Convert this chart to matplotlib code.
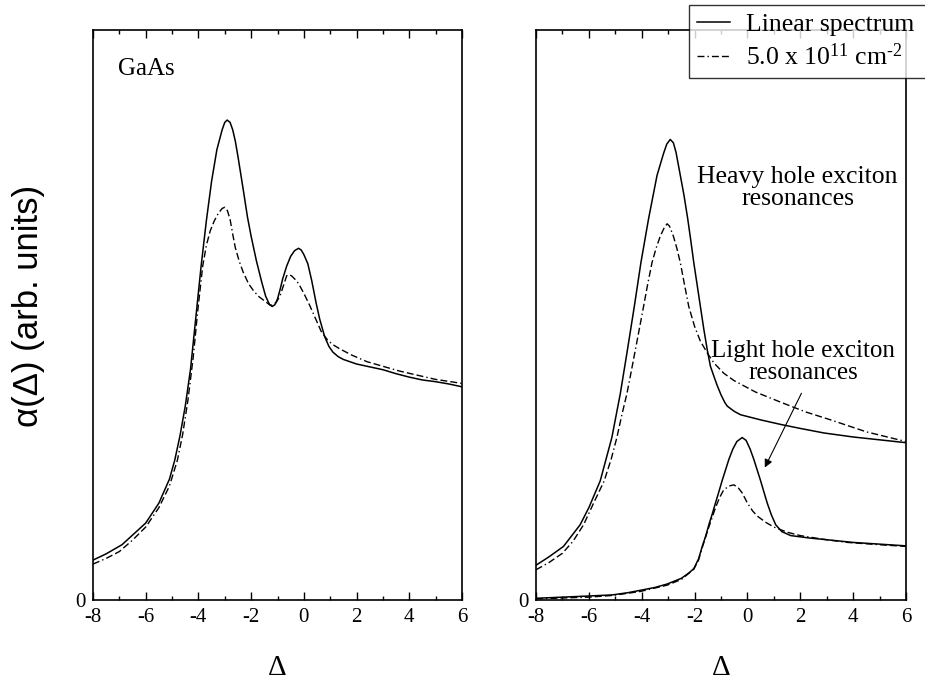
import numpy as np
import matplotlib.pyplot as plt

plt.rcParams['font.family'] = 'Liberation Serif'
plt.rcParams['mathtext.fontset'] = 'custom'
plt.rcParams['mathtext.rm'] = 'Liberation Serif'
plt.rcParams['mathtext.it'] = 'Liberation Serif:italic'
plt.rcParams['axes.unicode_minus'] = False

# GaAs total absorption
gaas_x = [-8, -7.5, -6.9, -6.0, -5.5, -5.1, -4.9, -4.7, -4.5, -4.3, -4.1, -3.9, -3.7, -3.5,
          -3.3, -3.1, -3.0, -2.91, -2.8, -2.7, -2.6, -2.5, -2.3, -2.14, -2.0, -1.8, -1.6,
          -1.45, -1.3, -1.2, -1.1, -1.0, -0.9, -0.8, -0.65, -0.5, -0.35, -0.2, -0.1, 0.0,
          0.15, 0.3, 0.47, 0.6, 0.79, 0.95, 1.1, 1.3, 1.5, 2, 2.5, 3, 3.5, 4, 4.5, 5, 5.5, 6]
gaas_lin = [0.70, 0.81, 0.97, 1.35, 1.70, 2.12, 2.45, 2.88, 3.40, 4.05, 4.95, 5.85, 6.65, 7.35,
            7.90, 8.25, 8.38, 8.42, 8.38, 8.25, 8.05, 7.78, 7.20, 6.72, 6.38, 5.95, 5.58,
            5.33, 5.18, 5.15, 5.18, 5.28, 5.45, 5.64, 5.86, 6.03, 6.13, 6.17, 6.14, 6.06,
            5.90, 5.60, 5.20, 4.93, 4.62, 4.45, 4.35, 4.27, 4.22, 4.14, 4.09, 4.04, 3.97, 3.91,
            3.86, 3.83, 3.79, 3.74]

gaas_nl_x = [-8, -7.5, -7, -6.5, -6, -5.5, -5.1, -4.8, -4.6, -4.4, -4.2, -4.02, -3.84, -3.7,
             -3.55, -3.4, -3.25, -3.1, -3.0, -2.9, -2.8, -2.7, -2.6, -2.45, -2.3, -2.1, -1.9,
             -1.7, -1.5, -1.3, -1.2, -1.05, -0.9, -0.75, -0.65, -0.55, -0.45, -0.3, -0.2, 0.0,
             0.22, 0.45, 0.66, 0.9, 1.1, 1.35, 1.8, 2.4, 3, 3.6, 4.25, 5, 6]
gaas_nl = [0.63, 0.73, 0.85, 1.05, 1.28, 1.62, 2.00, 2.45, 2.90, 3.50, 4.25, 5.10, 5.85, 6.22,
           6.48, 6.65, 6.78, 6.87, 6.89, 6.83, 6.68, 6.42, 6.18, 5.94, 5.75, 5.55, 5.42,
           5.32, 5.25, 5.18, 5.17, 5.22, 5.34, 5.55, 5.69, 5.71, 5.68, 5.61, 5.55, 5.38,
           5.17, 4.93, 4.71, 4.56, 4.48, 4.41, 4.30, 4.18, 4.10, 4.02, 3.95, 3.87, 3.80]

# heavy hole exciton part
hh_x = [-8, -7.5, -6.96, -6.33, -6.0, -5.57, -5.13, -4.81, -4.54, -4.28, -4.03, -3.74, -3.42,
        -3.17, -3.05, -2.92, -2.8, -2.7, -2.6, -2.54, -2.4, -2.26, -2.15, -2.03, -1.9, -1.78,
        -1.65, -1.52, -1.4, -1.25, -1.15, -1.0, -0.85, -0.76, -0.5, -0.26, 0.5, 1.26, 2, 2.9,
        4, 5, 6]
hh_lin = [0.61, 0.76, 0.94, 1.32, 1.62, 2.09, 2.85, 3.62, 4.39, 5.15, 5.92, 6.69, 7.45,
          7.84, 8.00, 8.08, 8.02, 7.85, 7.60, 7.45, 7.10, 6.69, 6.33, 5.92, 5.52, 5.15,
          4.75, 4.39, 4.10, 3.90, 3.77, 3.60, 3.46, 3.40, 3.31, 3.25, 3.16, 3.08, 3.01, 2.93,
          2.86, 2.81, 2.76]

hh_nl_x = [-8, -7.5, -7, -6.6, -6.2, -5.8, -5.42, -5.15, -4.94, -4.75, -4.56, -4.4, -4.24,
           -4.08, -3.93, -3.77, -3.61, -3.45, -3.3, -3.15, -3.04, -2.95, -2.8, -2.67, -2.54,
           -2.38, -2.22, -2.0, -1.78, -1.5, -1.27, -0.9, -0.51, 0.3, 1.26, 2.2, 3.15, 4.5, 6]
hh_nl = [0.53, 0.66, 0.82, 1.03, 1.32, 1.72, 2.09, 2.48, 2.85, 3.25, 3.62, 4.00, 4.39,
         4.78, 5.15, 5.55, 5.92, 6.18, 6.38, 6.53, 6.60, 6.56, 6.38, 6.17, 5.92,
         5.53, 5.15, 4.80, 4.54, 4.32, 4.16, 3.98, 3.85, 3.65, 3.47, 3.30, 3.16, 2.95, 2.78]

# light hole exciton part
lh_x = [-8, -7, -6, -5.1, -4.5, -4.05, -3.5, -3.04, -2.5, -2.2, -2.03, -1.85, -1.71, -1.58,
        -1.46, -1.33, -1.21, -1.08, -0.96, -0.83, -0.7, -0.55, -0.4, -0.2, -0.05, 0.1, 0.24,
        0.37, 0.5, 0.62, 0.75, 0.9, 1.07, 1.3, 1.64, 2.3, 3.15, 4, 5, 6]
lh_lin = [0.03, 0.05, 0.07, 0.09, 0.13, 0.17, 0.22, 0.28, 0.38, 0.48, 0.55, 0.72, 0.94, 1.12,
          1.32, 1.51, 1.70, 1.90, 2.09, 2.28, 2.47, 2.65, 2.78, 2.85, 2.80, 2.65, 2.47,
          2.28, 2.09, 1.90, 1.70, 1.50, 1.32, 1.20, 1.13, 1.09, 1.05, 1.01, 0.98, 0.95]

lh_nl_x = [-8, -6, -5.1, -4.05, -3.04, -2.5, -2.03, -1.85, -1.71, -1.46, -1.2, -1.05, -0.9,
           -0.7, -0.51, -0.35, -0.2, 0.0, 0.2, 0.38, 0.7, 1.0, 1.5, 2.0, 2.8, 3.79, 5, 6]
lh_nl = [0.02, 0.05, 0.08, 0.15, 0.26, 0.36, 0.54, 0.70, 0.92, 1.28, 1.63, 1.80, 1.93,
         2.00, 2.02, 1.97, 1.88, 1.70, 1.56, 1.47, 1.36, 1.28, 1.19, 1.13, 1.07, 1.01, 0.97, 0.94]

dashdot = (0, (5, 2.2, 1, 2.2, 5, 2.2, 5, 2.2))

fig = plt.figure(figsize=(9.25, 6.83), dpi=100)
ax1 = fig.add_axes([93 / 925, 1 - 600 / 683, 369 / 925, 570 / 683])
ax2 = fig.add_axes([536 / 925, 1 - 600 / 683, 370 / 925, 570 / 683])

l1, = ax1.plot(gaas_x, gaas_lin, color='black', lw=1.1)
l2, = ax1.plot(gaas_nl_x, gaas_nl, color='black', lw=1.0, linestyle=dashdot)

ax2.plot(hh_x, hh_lin, color='black', lw=1.1)
ax2.plot(hh_nl_x, hh_nl, color='black', lw=1.0, linestyle=dashdot)
ax2.plot(lh_x, lh_lin, color='black', lw=1.1)
ax2.plot(lh_nl_x, lh_nl, color='black', lw=1.0, linestyle=dashdot)

for ax in (ax1, ax2):
    ax.set_xlim(-8, 6)
    ax.set_ylim(0, 10)
    ax.set_xticks(np.arange(-8, 7, 2))
    ax.set_xticks(np.arange(-8, 7, 1), minor=True)
    ax.set_yticks([0])
    ax.tick_params(axis='x', which='both', direction='in', top=True, labelsize=15, pad=6)
    ax.tick_params(axis='x', which='major', length=6, width=1)
    ax.tick_params(axis='x', which='minor', length=3, width=1)
    ax.tick_params(axis='y', length=0, labelsize=15, pad=5)
    for sp in ax.spines.values():
        sp.set_linewidth(1.2)
    ax.set_xlabel('Δ', fontsize=21, labelpad=20)

ax1.text(-7.05, 9.21, 'GaAs', fontsize=18, va='baseline', ha='left')

ax2.text(1.9, 7.23, 'Heavy hole exciton\nresonances', fontsize=18.5, ha='center',
         va='center', multialignment='center', linespacing=1.0)
ax2.text(2.1, 4.18, 'Light hole exciton\nresonances', fontsize=18, ha='center',
         va='center', multialignment='center', linespacing=1.0)
ax2.annotate('', xy=(0.61, 2.28), xytext=(2.09, 3.67),
             arrowprops=dict(arrowstyle='-|>', color='black', lw=0.8,
                             mutation_scale=12))

fig.text(29 / 925, 1 - 306 / 683, 'α(Δ) (arb. units)', rotation=90,
         fontsize=25, family='Liberation Sans', ha='center', va='center')

leg = fig.legend([l1, l2], ['Linear spectrum', '5.0 x 10$^{11}$ cm$^{\u20102}$'],
                 loc='upper left', bbox_to_anchor=(689 / 925, 1 - 5 / 683, 260 / 925, 0),
                 mode='expand', fontsize=18.5, frameon=True, fancybox=False,
                 edgecolor='black', handlelength=1.3, handletextpad=0.6, borderpad=0.3,
                 labelspacing=0.3, borderaxespad=0)
leg.get_frame().set_linewidth(1.0)

fig.savefig('out.png', dpi=100)
